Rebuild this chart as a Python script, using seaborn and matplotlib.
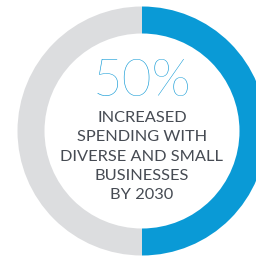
import matplotlib
matplotlib.use("Agg")
import matplotlib.pyplot as plt
import seaborn as sns

labels = ["Increased", "Remaining"]
values = [50, 50]
colors = ["#0A9AD6", "#DCDDDF"]
headline = "50%"
caption_lines = ["INCREASED", "SPENDING WITH", "DIVERSE AND SMALL", "BUSINESSES", "BY 2030"]

sns.set_theme(style="white")
plt.rcParams['font.family'] = ['Lato', 'DejaVu Sans']

fig = plt.figure(figsize=(2.56, 2.57), dpi=100)
ax = fig.add_axes([0, 0, 1, 1])

ax.pie(values, colors=colors, radius=124.5, center=(142, 126), startangle=90,
       counterclock=False, wedgeprops=dict(width=27, linewidth=0), frame=True)
ax.set_xlim(0, 256)
ax.set_ylim(0, 257)
ax.set_aspect('equal')
ax.axis('off')

ax.text(142, 175, headline, ha='center', va='center', fontsize=37,
        color="#0896D4", fontweight='light')
y0 = 139
for i, line in enumerate(caption_lines):
    ax.text(142, y0 - i * 19.3, line, ha='center', va='center', fontsize=11.8,
            color="#464B53")

fig.savefig("out.png", dpi=100)
